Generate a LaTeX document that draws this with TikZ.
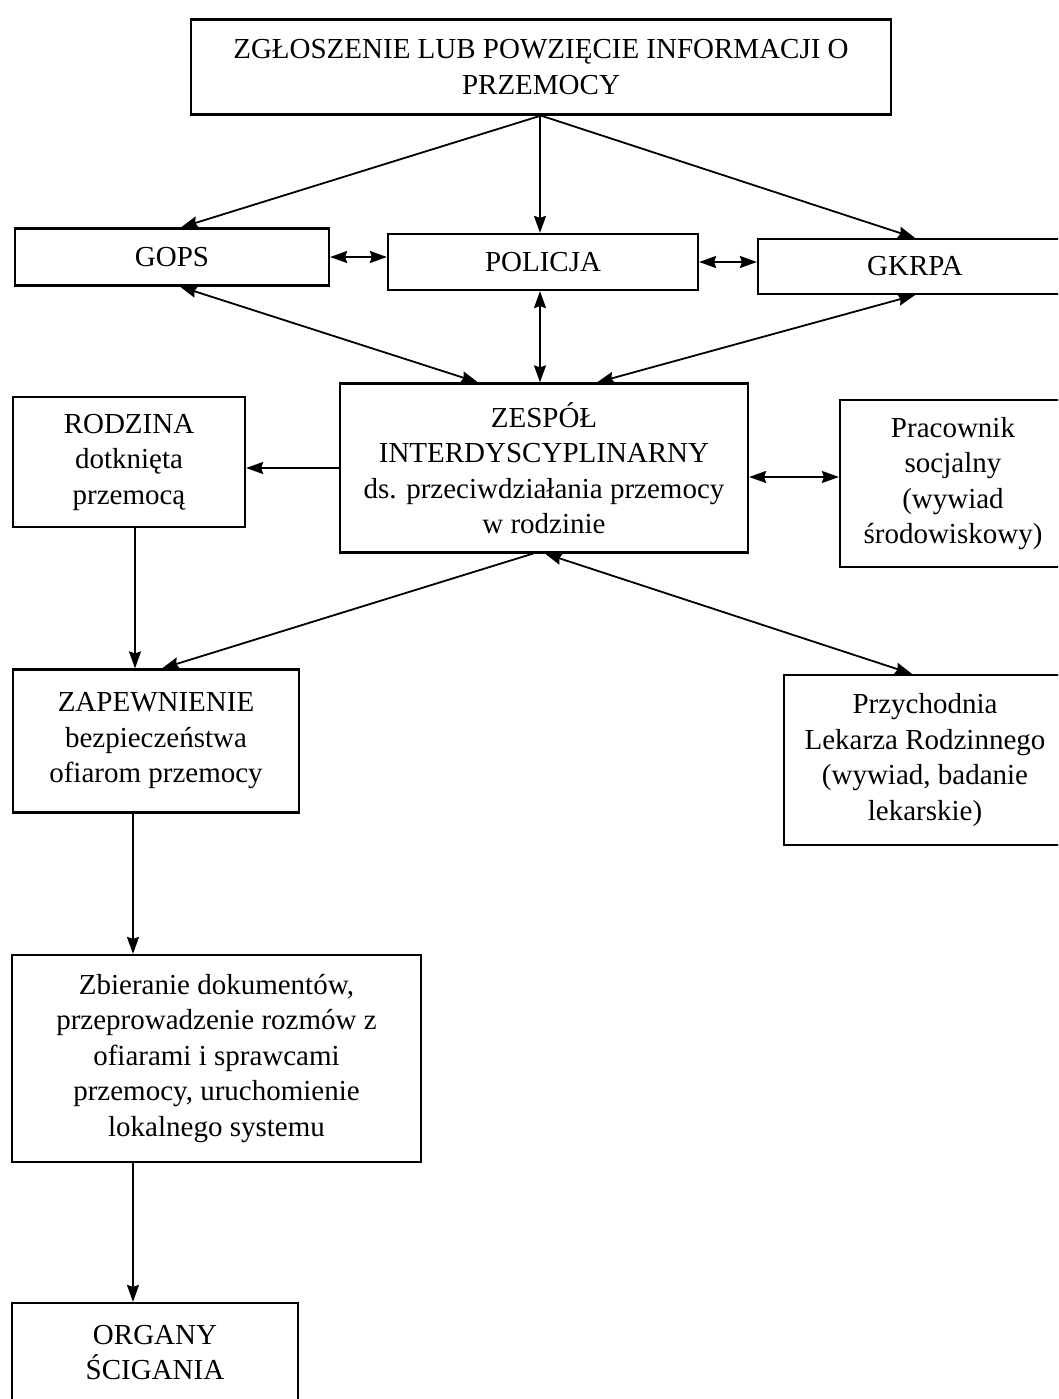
\documentclass[tikz,border=0pt]{standalone}
\usepackage{fontspec}
\setmainfont{Liberation Serif}
\usetikzlibrary{arrows.meta,calc}
\begin{document}
\begin{tikzpicture}[x=1pt,y=-1pt,
  box/.style={draw, line width=2.2pt, inner sep=0pt, align=center,
    font=\fontsize{29}{35.5}\selectfont},
  tip/.tip={Stealth[length=17pt,width=12pt,inset=2pt]},
  conn/.style={line width=1.8pt, -tip},
  biconn/.style={line width=1.8pt, tip-tip}
]
\useasboundingbox (0,0) rectangle (1058,1399);
\clip (0,0) rectangle (1058,1399);
\fill[white] (0,0) rectangle (1058,1399);

\node[box, minimum width=700pt, minimum height=95pt] (top) at (541,67)
  {ZGŁOSZENIE LUB POWZIĘCIE INFORMACJI O\\PRZEMOCY};
\node[box, minimum width=314pt, minimum height=57pt] (gops) at (172,257) {GOPS};
\node[box, minimum width=310pt, minimum height=56pt] (pol) at (543,262) {POLICJA};
\node[box, minimum width=314pt, minimum height=55pt] (gkr) at (915,266.5) {GKRPA};
\node[box, minimum width=408pt, minimum height=169pt] (zes) at (544,468)
  {ZESPÓŁ\\INTERDYSCYPLINARNY\\ds. przeciwdziałania przemocy\\w rodzinie};
\node[box, minimum width=232pt, minimum height=130pt] (rod) at (129,462)
  {RODZINA\\dotknięta\\przemocą};
\node[box, minimum width=226pt, minimum height=167pt] (pra) at (953,483.5)
  {Pracownik\\socjalny\\(wywiad\\środowiskowy)};
\node[box, minimum width=286pt, minimum height=143pt] (zap) at (156,741)
  {ZAPEWNIENIE\\bezpieczeństwa\\ofiarom przemocy};
\node[box, minimum width=282pt, minimum height=170pt] (prz) at (925,760)
  {Przychodnia\\Lekarza Rodzinnego\\(wywiad, badanie\\lekarskie)};
\node[box, minimum width=409pt, minimum height=207pt] (zbi) at (216.5,1058.5)
  {Zbieranie dokumentów,\\przeprowadzenie rozmów z\\ofiarami i sprawcami\\przemocy, uruchomienie\\lokalnego systemu};
\node[box, minimum width=286pt, minimum height=99pt] (org) at (155,1352.5)
  {ORGANY\\ŚCIGANIA};

% from the top box
\draw[conn] (top.south) -- ([xshift=9pt]gops.north);
\draw[conn] ([xshift=-1pt]top.south) -- ([xshift=-1pt]top.south |- pol.north);
\draw[conn] (top.south) -- (gkr.north);
% horizontal links
\draw[biconn] (gops.east) -- (gops.east -| pol.west);
\draw[biconn] (pol.east) -- (pol.east -| gkr.west);
% to the team
\draw[biconn] ([xshift=8pt]gops.south) -- ([xshift=-66pt]zes.north);
\draw[biconn] ([xshift=-3pt]pol.south) -- ([xshift=-3pt]pol.south |- zes.north);
\draw[biconn] (gkr.south) -- ([xshift=53pt]zes.north);
\draw[conn] (zes.west) -- (zes.west -| rod.east);
\draw[biconn] ([yshift=-9pt]zes.east) -- ([yshift=-9pt]zes.east -| pra.west);
% lower part
\draw[conn] ([xshift=6pt]rod.south) -- ([xshift=6pt]rod.south |- zap.north);
\draw[conn] ([xshift=-11pt]zes.south) -- ([xshift=6pt]zap.north);
\draw[biconn] ([xshift=1pt]zes.south) -- ([xshift=-13pt]prz.north);
\draw[conn] ([xshift=-23pt]zap.south) -- ([xshift=-23pt]zap.south |- zbi.north);
\draw[conn] ([xshift=-83.5pt]zbi.south) -- ([xshift=-83.5pt]zbi.south |- org.north);
\end{tikzpicture}
\end{document}
